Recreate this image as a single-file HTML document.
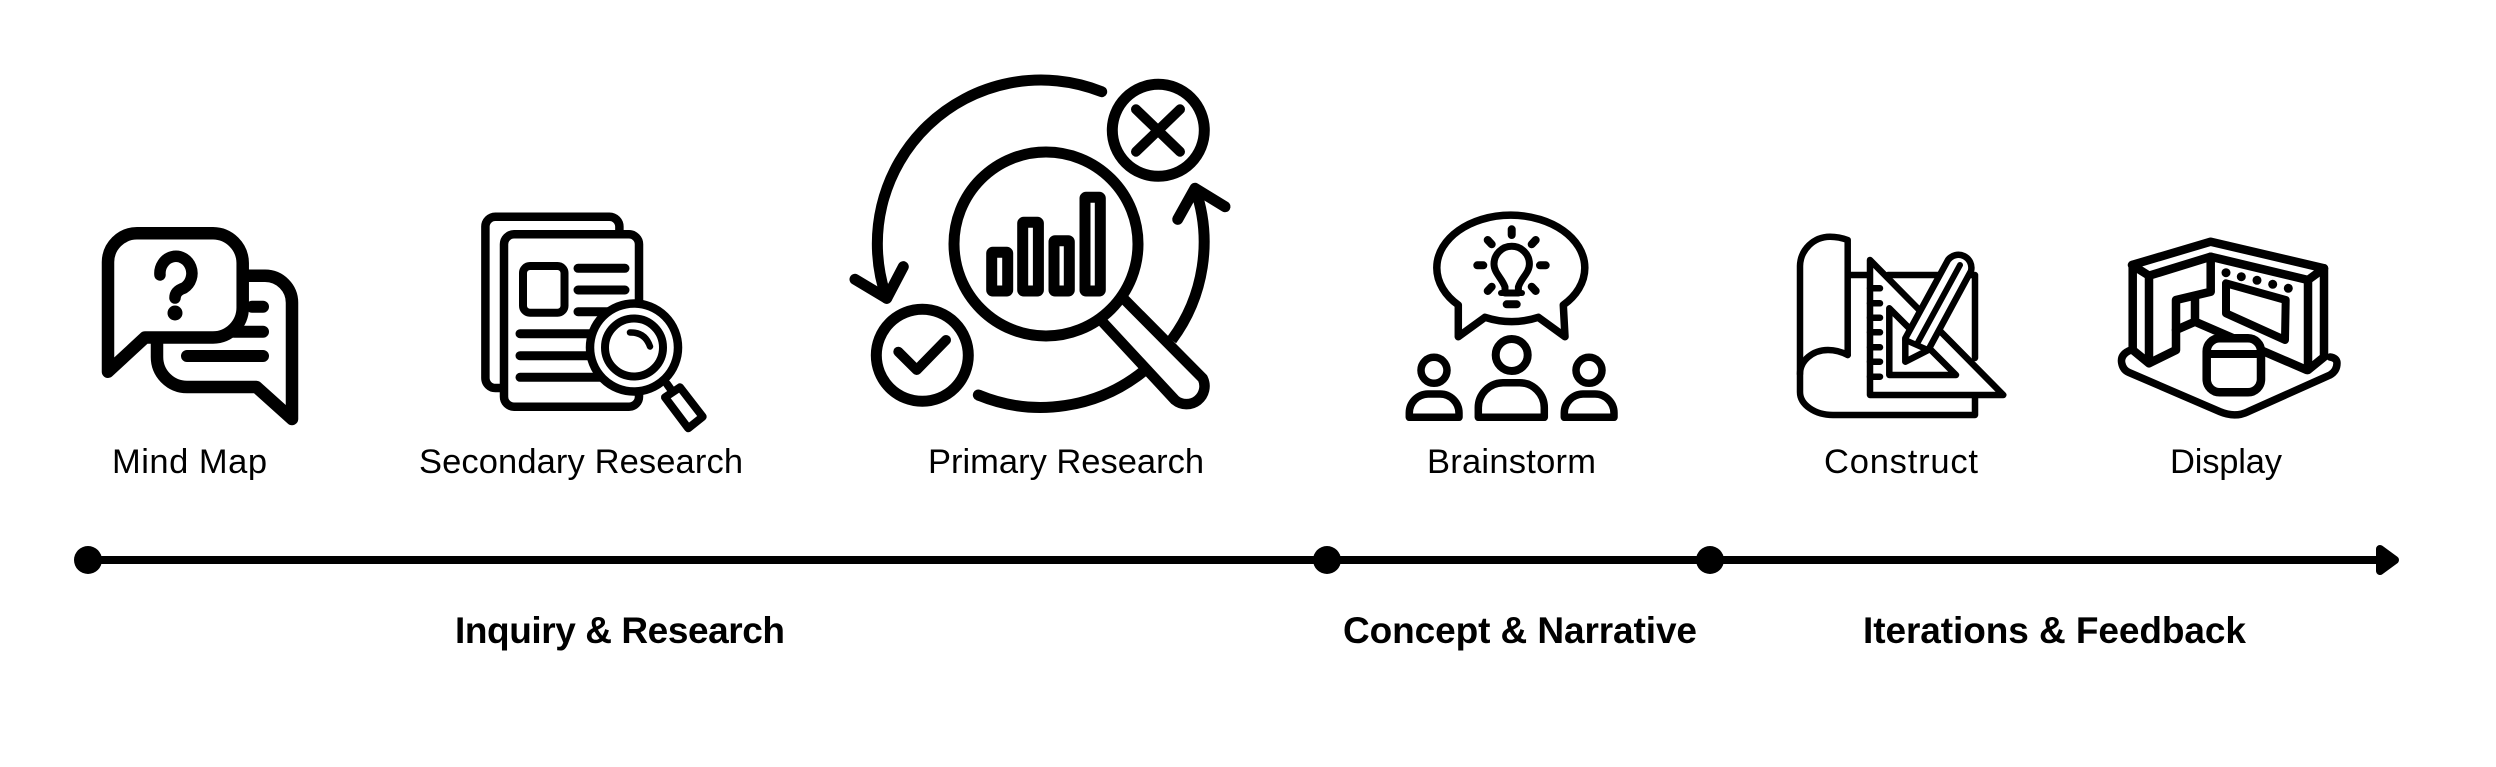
<!DOCTYPE html>
<html><head><meta charset="utf-8"><style>
html,body{margin:0;padding:0;background:#fff;width:2496px;height:767px;overflow:hidden}
svg{display:block}
text{font-family:"Liberation Sans",sans-serif;fill:#000}
.l{font-size:34.5px}
.b{font-size:37px;font-weight:bold}
.s{fill:none;stroke:#000;stroke-linecap:round;stroke-linejoin:round}
.w{fill:#fff;stroke:#000;stroke-linecap:round;stroke-linejoin:round}
</style></head><body>
<svg width="2496" height="767" viewBox="0 0 2496 767" xmlns="http://www.w3.org/2000/svg">
<rect width="2496" height="767" fill="#fff"/>

<!-- Mind map -->
<g class="s" stroke-width="12.5">
<path d="M248 275.8H265A27 27 0 0 1 292 303V419L256.4 387H187A30 30 0 0 1 157 357V343"/>
<path d="M252 306.7H263M234 331.7H263M187 356H263" stroke-width="12"/>
<path class="w" stroke-width="12.5" d="M108 371.7V262A29 29 0 0 1 137 233.3H213A30 30 0 0 1 242.7 263V307A30 30 0 0 1 213 337.5H145Z"/>
<path d="M160 275A16 17 0 1 1 184 288Q175 291 175 298" stroke-width="11.5"/>
</g>
<circle cx="175" cy="313" r="7.5"/>

<!-- Secondary research -->
<g class="s" stroke-width="8.5">
<path d="M619.4 232V227A10 10 0 0 0 609.4 216.7H495.4A10 10 0 0 0 485.4 227V378A10 10 0 0 0 495.4 388H504"/>
<rect class="w" stroke-width="8.5" x="504" y="234.3" width="135" height="172.4" rx="10"/>
<rect x="523" y="266" width="41.5" height="46.7" rx="7" stroke-width="8"/>
<path d="M578 268.3H625M578 290H625M578 311.7H612M520 333.7H600M520 355.7H600M520 377.3H600" stroke-width="9"/>
<circle class="w" stroke-width="8.5" cx="634" cy="347.5" r="44"/>
<circle cx="634" cy="347.5" r="29" stroke-width="8"/>
<path d="M630 332.5Q645 332 650 346.5" stroke-width="6.5"/>
<path d="M667 384L672 391" stroke-width="8"/>
<path d="M665 397.3L680 387.3L702.7 416.7L688.3 428.3Z" stroke-width="8"/>
</g>

<!-- Primary research -->
<g class="s" stroke-width="11">
<path d="M1101.7 91.7A163.7 163.7 0 0 0 886.7 298.3"/>
<path d="M855 279.3L886.7 298.3L903.3 266.7"/>
<path d="M978.3 395A163.7 163.7 0 0 0 1145 370" stroke-linecap="butt"/>
<path d="M978.3 395L979 395.3"/>
<path d="M1171.7 340A163.7 163.7 0 0 0 1195 188.3" stroke-linecap="butt"/>
<path d="M1177.7 219.3L1195 188.3L1225 206.7"/>
<circle cx="1158.3" cy="130.3" r="46"/>
<path d="M1136 109.3L1180 151.7M1180 109.3L1136 151.7" stroke-width="10"/>
<circle cx="922.3" cy="355.3" r="46"/>
<path d="M898.3 351.7L916.7 370L946 340" stroke-width="10"/>
<path d="M1125 300L1202.7 378.3A18 18 0 0 1 1175 400L1103.3 322.7" stroke-width="10.5"/>
<circle cx="1046" cy="244" r="92"/>
<rect x="991.7" y="252.3" width="16" height="38.7" rx="1"/>
<rect x="1022.7" y="222.3" width="15.7" height="68.7" rx="1"/>
<rect x="1054" y="240.7" width="15.3" height="50.3" rx="1"/>
<rect x="1085" y="197.3" width="15.3" height="93.7" rx="1"/>
</g>

<!-- Brainstorm -->
<g class="s" stroke-width="7.5">
<path d="M1458.3 305V336.7L1485 317.3Q1511.7 326 1538.3 317.3L1565 336.7L1563.3 305A74 52.7 0 1 0 1458.3 305Z"/>
<path d="M1505 293V287C1502 278 1494 273 1494 264A17.7 17.7 0 0 1 1529.4 264C1529.4 273 1521 278 1518.4 287V293Z" stroke-width="7"/>
<path d="M1501 293H1522" stroke-width="6"/>
<path d="M1506.7 304.3H1516.7M1511.7 229.3V235M1487.7 240L1491.7 244.3M1535.7 240L1531.7 244.3M1477.3 265.3H1483.3M1540 265.3H1545.7M1487.7 291L1491.7 286.7M1535.7 291L1531.7 286.7" stroke-width="8"/>
<circle cx="1511.7" cy="355" r="16" stroke-width="8"/>
<path d="M1478.3 417.3V408A25 25 0 0 1 1503 382.7H1519.6A25 25 0 0 1 1544.3 408V417.3Z"/>
<circle cx="1434" cy="370.3" r="13" stroke-width="7.5"/>
<path d="M1409.3 417.3V413A19 19 0 0 1 1428 394H1440A19 19 0 0 1 1459 413V417.3Z"/>
<circle cx="1589" cy="370.3" r="13" stroke-width="7.5"/>
<path d="M1564.3 417.3V413A19 19 0 0 1 1583 394H1595A19 19 0 0 1 1614 413V417.3Z"/>
</g>

<!-- Construct -->
<g class="s" stroke-width="6.5">
<path d="M1847.7 355V240Q1839 236.7 1830 236.7A30 30 0 0 0 1800 266V392A33 23 0 0 0 1833 415H1975V396.7"/>
<path d="M1847.7 355Q1838 350 1828 350A28 24 0 0 0 1800 374"/>
<path d="M1850 275H1868M1888 275H1975V358"/>
<path class="w" stroke-width="6.5" d="M1870 260V395H2003.3Z"/>
<path d="M1870 288.3H1880M1870 303.3H1880M1870 317.7H1880M1870 332.3H1880M1870 347.3H1880M1870 361.7H1880M1870 376.7H1880" stroke-width="6.5"/>
<path d="M1889.3 308.3V375H1956Z"/>
<path class="w" stroke-width="6.5" d="M1905.3 361.7V338.3L1948 260A13 13 0 0 1 1971 271L1928.3 350Z"/>
<path d="M1917 344L1960 265" stroke-width="6"/>
<path d="M1905.3 340L1928 350" stroke-width="6"/>
</g>

<!-- Display -->
<g class="s" stroke-width="8">
<path d="M2131.7 349.7Q2120 354 2121.7 363Q2123 370 2129 372.5L2220 411.7Q2235 418 2248 411.7L2330 375Q2337 371 2337 363Q2337 358 2330 357" stroke-width="7.5"/>
<path fill="#fff" d="M2131.7 265L2210.7 241.7L2324 268.3V350L2308 370L2279 358L2195 322L2176 330V350L2149 363.3L2133 350Z" stroke="none"/>
<path d="M2132 265L2210.7 241.7L2324 268.3M2132 265L2149 275.7L2210.7 256.7L2308 280M2324 268.3L2308 280" stroke-width="8.5"/>
<path d="M2132.7 265V350L2149 363.3L2176 350V300L2210.7 291.7V256.7M2149 275.7V363.3M2308 280V370M2324 268.3V357L2308 370" stroke-width="8.5"/>
<path d="M2195 297V321.7L2176 330M2195 321.7L2306.7 370" stroke-width="8.5"/>
<path d="M2226 283.3L2285.7 300L2285 340L2226 313.3Z" stroke-width="8"/>
<rect class="w" stroke-width="8.5" x="2206.7" y="338.3" width="54.3" height="54" rx="13"/>
<path d="M2206.7 354H2261" stroke-width="8"/>
</g>
<g>
<circle cx="2226" cy="272.7" r="4.5"/><circle cx="2241.3" cy="276.7" r="4.5"/><circle cx="2257" cy="280.3" r="4.5"/><circle cx="2272.7" cy="284.3" r="4.5"/><circle cx="2288.3" cy="288.3" r="4.5"/>
</g>

<!-- Labels -->
<text class="l" x="112" y="473" textLength="155" lengthAdjust="spacing">Mind Map</text>
<text class="l" x="419" y="473" textLength="324" lengthAdjust="spacing">Secondary Research</text>
<text class="l" x="928" y="473" textLength="276" lengthAdjust="spacing">Primary Research</text>
<text class="l" x="1427" y="473" textLength="169" lengthAdjust="spacing">Brainstorm</text>
<text class="l" x="1824" y="473" textLength="154" lengthAdjust="spacing">Construct</text>
<text class="l" x="2170" y="473" textLength="112" lengthAdjust="spacing">Display</text>

<!-- Timeline -->
<rect x="88" y="556" width="2295" height="8"/>
<circle cx="88" cy="560" r="14"/>
<circle cx="1327" cy="560" r="14"/>
<circle cx="1710" cy="560" r="14"/>
<path d="M2380 549L2395 560L2380 571Z" stroke="#000" stroke-width="8" stroke-linejoin="round"/>

<text class="b" x="455" y="643" textLength="330" lengthAdjust="spacing">Inquiry &amp; Research</text>
<text class="b" x="1343" y="643" textLength="354" lengthAdjust="spacing">Concept &amp; Narrative</text>
<text class="b" x="1863" y="643" textLength="383" lengthAdjust="spacing">Iterations &amp; Feedback</text>
</svg>
</body></html>
